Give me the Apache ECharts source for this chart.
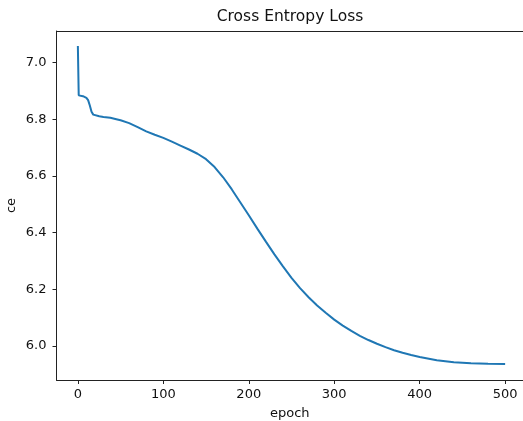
<!DOCTYPE html>
<html>
<head>
<meta charset="utf-8">
<script src="https://cdn.jsdelivr.net/npm/echarts@6/dist/echarts.min.js"></script>
<style>
html,body{margin:0;padding:0;background:#fff;}
#chart{width:523px;height:421px;}
</style>
</head>
<body>
<div id="chart"></div>
<script>
const epochs = [0,1,3,6,8,10,12,14,16,18,20,25,30,38,45,50,60,70,80,90,100,110,120,130,140,150,160,170,180,190,200,210,220,230,240,250,260,270,280,290,300,310,320,330,340,350,360,370,380,390,400,420,440,460,480,500];
const ceLoss = [7.058,6.884,6.881,6.881,6.879,6.875,6.867,6.848,6.826,6.816,6.813,6.810,6.808,6.805,6.800,6.796,6.786,6.772,6.757,6.745,6.734,6.721,6.707,6.693,6.678,6.659,6.631,6.595,6.553,6.507,6.461,6.414,6.368,6.323,6.281,6.240,6.204,6.172,6.143,6.117,6.093,6.072,6.053,6.036,6.021,6.008,5.996,5.985,5.976,5.968,5.961,5.950,5.943,5.939,5.937,5.936];
const xTicks = [0,100,200,300,400,500];
const yTicks = [6.0,6.2,6.4,6.6,6.8,7.0];
const chartTitle = 'Cross Entropy Loss';
const xName = 'epoch';
const yName = 'ce';

const font = 'DejaVu Sans';
const chart = echarts.init(document.getElementById('chart'), null, {renderer:'canvas'});
chart.setOption({
  animation: false,
  backgroundColor: '#ffffff',
  graphic: [{
    type: 'text', x: 290, y: 17,
    style: {text: chartTitle, textAlign: 'center', textVerticalAlign: 'middle',
      fontFamily: font, fontSize: 15.5, fill: '#111'}
  }],
  grid: {
    left: 56.5, right: 0, top: 31, bottom: 41,
    show: false, containLabel: false, outerBoundsMode: 'none'
  },
  xAxis: [{
    type: 'value', min: -25, max: 520.9,
    name: xName, nameLocation: 'middle', nameGap: 27, nameMoveOverlap: false,
    nameTextStyle: {fontFamily: font, fontSize: 13, color: '#111'},
    axisLine: {show: true, onZero: false, lineStyle: {color: '#222', width: 1}},
    axisTick: {show: true, length: 4, customValues: xTicks, lineStyle: {color: '#222'}},
    axisLabel: {customValues: xTicks, margin: 8, fontFamily: font, fontSize: 13, color: '#111'},
    splitLine: {show: false}
  }, {
    type: 'value', min: -25, max: 520.9, position: 'top',
    axisLine: {show: true, onZero: false, lineStyle: {color: '#222', width: 1}},
    axisTick: {show: false}, axisLabel: {show: false}, splitLine: {show: false}
  }],
  yAxis: {
    type: 'value', min: 5.880, max: 7.111,
    name: yName, nameLocation: 'middle', nameGap: 38, nameRotate: 90, nameMoveOverlap: false,
    nameTextStyle: {fontFamily: font, fontSize: 13, color: '#111'},
    axisLine: {show: true, onZero: false, lineStyle: {color: '#222', width: 1}},
    axisTick: {show: true, length: 4, customValues: yTicks, lineStyle: {color: '#222'}},
    axisLabel: {customValues: yTicks, margin: 10, fontFamily: font, fontSize: 13, color: '#111',
      formatter: v => Number(v).toFixed(1)},
    splitLine: {show: false}
  },
  series: [{
    type: 'line',
    xAxisIndex: 0,
    data: epochs.map((e, i) => [e, ceLoss[i]]),
    showSymbol: false,
    smooth: false,
    lineStyle: {color: '#1f77b4', width: 2},
    itemStyle: {color: '#1f77b4'}
  }]
});
</script>
</body>
</html>
